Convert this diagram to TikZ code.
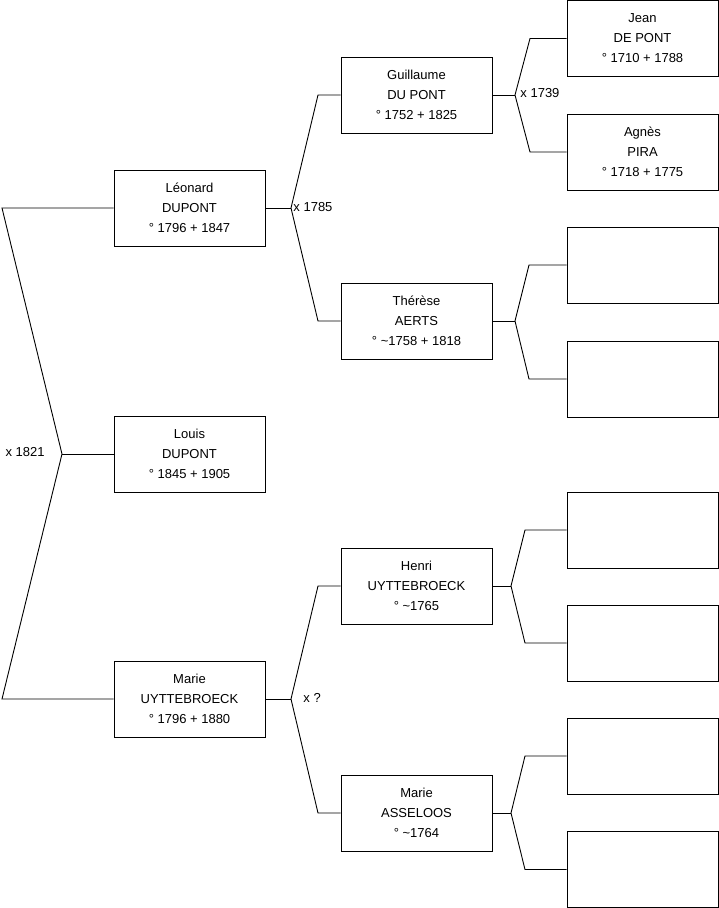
\documentclass[tikz,border=0pt]{standalone}
\usepackage{fontspec}
\setmainfont{Liberation Sans}
\tikzset{
  persbox/.style={draw,rectangle,minimum width=151pt,minimum height=76pt,
    inner sep=0pt,align=center,font=\fontsize{13}{20}\selectfont},
  marlabel/.style={inner sep=0pt,font=\fontsize{13}{16}\selectfont},
  link/.style={draw,line width=0.9pt}
}
\begin{document}
\begin{tikzpicture}[x=1pt,y=-1pt,line width=0.9pt]
    \useasboundingbox (0,0) rectangle (719,908);
    % GEN 1 : child and parents
    \node[persbox] (leonard) at (189.5,208) {Léonard\\DUPONT\\° 1796 + 1847};
    \node[persbox] (louis)   at (189.5,454) {Louis\\DUPONT\\° 1845 + 1905};
    \node[persbox] (marieu)  at (189.5,699) {Marie\\UYTTEBROECK\\° 1796 + 1880};
    % GEN 2 : grandparents
    \node[persbox] (guillaume) at (416.5,95)  {Guillaume\\DU PONT\\° 1752 + 1825};
    \node[persbox] (therese)   at (416.5,321) {Thérèse\\AERTS\\° \textasciitilde 1758 + 1818};
    \node[persbox] (henri)     at (416.5,586) {Henri\\UYTTEBROECK\\° \textasciitilde 1765};
    \node[persbox] (mariea)    at (416.5,813) {Marie\\ASSELOOS\\° \textasciitilde 1764};
    % GEN 3 : great-grandparents
    \node[persbox] (jean)  at (642.5,38.5) {Jean\\DE PONT\\° 1710 + 1788};
    \node[persbox] (agnes) at (642.5,152)  {Agnès\\PIRA\\° 1718 + 1775};
    \node[persbox] (ta) at (642.5,265) {};
    \node[persbox] (tb) at (642.5,379) {};
    \node[persbox] (ha) at (642.5,530) {};
    \node[persbox] (hb) at (642.5,643) {};
    \node[persbox] (ma) at (642.5,756) {};
    \node[persbox] (mb) at (642.5,869.5) {};
    % junctions
    \coordinate (j0) at (62,454);
    \coordinate (c0a) at (2,208);
    \coordinate (c0b) at (2,699);
    \coordinate (j1) at (291,208);
    \coordinate (c1a) at (318,95);
    \coordinate (c1b) at (318,321);
    \coordinate (j2) at (291,699);
    \coordinate (c2a) at (318,586);
    \coordinate (c2b) at (318,813);
    \coordinate (j3) at (515,95);
    \coordinate (c3a) at (530,38.5);
    \coordinate (c3b) at (530,152);
    \coordinate (j4) at (515,321);
    \coordinate (c4a) at (529,265);
    \coordinate (c4b) at (529,379);
    \coordinate (j5) at (511,586);
    \coordinate (c5a) at (525,530);
    \coordinate (c5b) at (525,643);
    \coordinate (j6) at (511,813);
    \coordinate (c6a) at (525,756);
    \coordinate (c6b) at (525,869.5);
    % links
    \draw[link] (leonard.west) -- (c0a) -- (j0) -- (c0b) -- (marieu.west);
    \draw[link] (j0) -- (louis.west);
    \draw[link] (leonard.east) -- (j1);
    \draw[link] (guillaume.west) -- (c1a) -- (j1) -- (c1b) -- (therese.west);
    \draw[link] (marieu.east) -- (j2);
    \draw[link] (henri.west) -- (c2a) -- (j2) -- (c2b) -- (mariea.west);
    \draw[link] (guillaume.east) -- (j3);
    \draw[link] (jean.west) -- (c3a) -- (j3) -- (c3b) -- (agnes.west);
    \draw[link] (therese.east) -- (j4);
    \draw[link] (ta.west) -- (c4a) -- (j4) -- (c4b) -- (tb.west);
    \draw[link] (henri.east) -- (j5);
    \draw[link] (ha.west) -- (c5a) -- (j5) -- (c5b) -- (hb.west);
    \draw[link] (mariea.east) -- (j6);
    \draw[link] (ma.west) -- (c6a) -- (j6) -- (c6b) -- (mb.west);
    % marriages
    \node[marlabel,anchor=east] (m1821) at (45,452) {x 1821};
    \node[marlabel,anchor=west] (m1785) at (293,207) {x 1785};
    \node[marlabel,anchor=west] (m1739) at (520,93) {x 1739};
    \node[marlabel,anchor=west] (mqq)   at (303,698) {x ?};
\end{tikzpicture}
\end{document}
